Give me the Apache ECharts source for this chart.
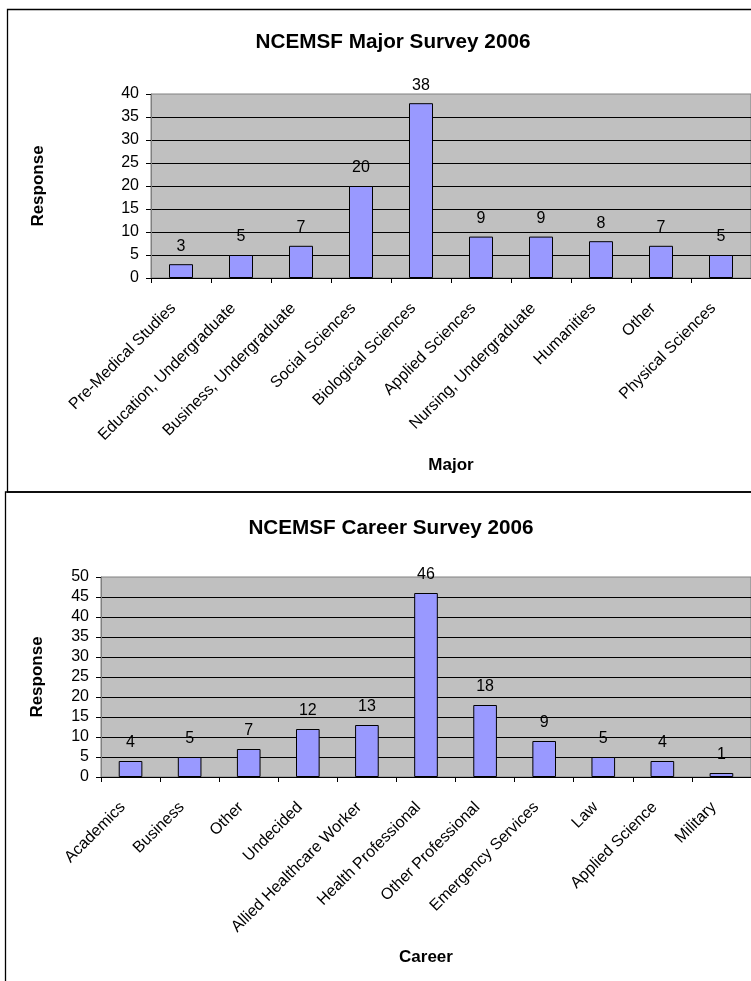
<!DOCTYPE html>
<html>
<head>
<meta charset="utf-8">
<script src="https://cdn.jsdelivr.net/npm/echarts@6/dist/echarts.min.js"></script>
<style>
html,body{margin:0;padding:0;background:#fff;}
#chart{width:751px;height:981px;}
</style>
</head>
<body>
<div id="chart"></div>
<script>
// ---- data ----
const majorTitle = 'NCEMSF Major Survey 2006';
const majorCategories = ['Pre-Medical Studies', 'Education, Undergraduate', 'Business, Undergraduate', 'Social Sciences', 'Biological Sciences', 'Applied Sciences', 'Nursing, Undergraduate', 'Humanities', 'Other', 'Physical Sciences'];
const majorValues = [3, 5, 7, 20, 38, 9, 9, 8, 7, 5];
const majorYTicks = [0, 5, 10, 15, 20, 25, 30, 35, 40];

const careerTitle = 'NCEMSF Career Survey 2006';
const careerCategories = ['Academics', 'Business', 'Other', 'Undecided', 'Allied Healthcare Worker', 'Health Professional', 'Other Professional', 'Emergency Services', 'Law', 'Applied Science', 'Military'];
const careerValues = [4, 5, 7, 12, 13, 46, 18, 9, 5, 4, 1];
const careerYTicks = [0, 5, 10, 15, 20, 25, 30, 35, 40, 45, 50];

const FONT = "'Liberation Sans', Arial, sans-serif";

function yAxis(gridIndex, ticks, nameGap) {
  return {
    type: 'value', gridIndex: gridIndex,
    min: ticks[0], max: ticks[ticks.length - 1], interval: ticks[1] - ticks[0],
    name: 'Response', nameLocation: 'middle', nameRotate: 90, nameGap: nameGap,
    nameTextStyle: { fontFamily: FONT, fontSize: 17, fontWeight: 'bold', color: '#000' },
    axisLine: { show: true, lineStyle: { color: '#808080', width: 1 } },
    axisTick: { show: true, length: 5, lineStyle: { color: '#000' } },
    axisLabel: { fontFamily: FONT, fontSize: 16, color: '#000', margin: 12 },
    splitLine: { show: true, showMaxLine: false, lineStyle: { color: '#000', width: 1 } }
  };
}

function xAxis(gridIndex, cats, name, nameGap) {
  return {
    type: 'category', gridIndex: gridIndex, data: cats,
    name: name, nameLocation: 'middle', nameGap: nameGap,
    nameTextStyle: { fontFamily: FONT, fontSize: 17, fontWeight: 'bold', color: '#000' },
    axisLine: { show: true, lineStyle: { color: '#000', width: 1 } },
    axisTick: { show: true, length: 5, alignWithLabel: false, lineStyle: { color: '#000' } },
    axisLabel: { interval: 0, rotate: 45, fontFamily: FONT, fontSize: 16, color: '#000', margin: 20, padding: [0, 11, 0, 0] },
    splitLine: { show: false }
  };
}

function barSeries(idx, values) {
  return {
    type: 'bar', xAxisIndex: idx, yAxisIndex: idx, data: values,
    barCategoryGap: '60%',
    itemStyle: { color: '#9999FF', borderColor: '#000', borderWidth: 1 },
    label: { show: true, position: 'top', distance: 10, fontFamily: FONT, fontSize: 16, color: '#000' }
  };
}

const chart = echarts.init(document.getElementById('chart'), null, { renderer: 'canvas' });
chart.setOption({
  backgroundColor: '#fff',
  animation: false,
  title: [
    { text: majorTitle, left: 388, top: 27, textAlign: 'center',
      textStyle: { fontFamily: FONT, fontSize: 20.7, fontWeight: 'bold', color: '#000' } },
    { text: careerTitle, left: 386, top: 513, textAlign: 'center',
      textStyle: { fontFamily: FONT, fontSize: 20.7, fontWeight: 'bold', color: '#000' } }
  ],
  graphic: [
    { type: 'rect', shape: { x: 7.5, y: 9.5, width: 800, height: 482.5 }, style: { fill: null, stroke: '#000', lineWidth: 1.3 }, z: 100 },
    { type: 'rect', shape: { x: 5.5, y: 492, width: 800, height: 600 }, style: { fill: null, stroke: '#000', lineWidth: 1.3 }, z: 100 }
  ],
  grid: [
    { left: 151, top: 94, width: 602, height: 184, show: true, backgroundColor: '#C0C0C0', borderColor: '#808080', borderWidth: 1 },
    { left: 101, top: 577, width: 652, height: 200, show: true, backgroundColor: '#C0C0C0', borderColor: '#808080', borderWidth: 1 }
  ],
  xAxis: [
    xAxis(0, majorCategories, 'Major', 179),
    xAxis(1, careerCategories, 'Career', 172)
  ],
  yAxis: [
    yAxis(0, majorYTicks, 104),
    yAxis(1, careerYTicks, 55)
  ],
  series: [
    barSeries(0, majorValues),
    barSeries(1, careerValues)
  ]
});
</script>
</body>
</html>
